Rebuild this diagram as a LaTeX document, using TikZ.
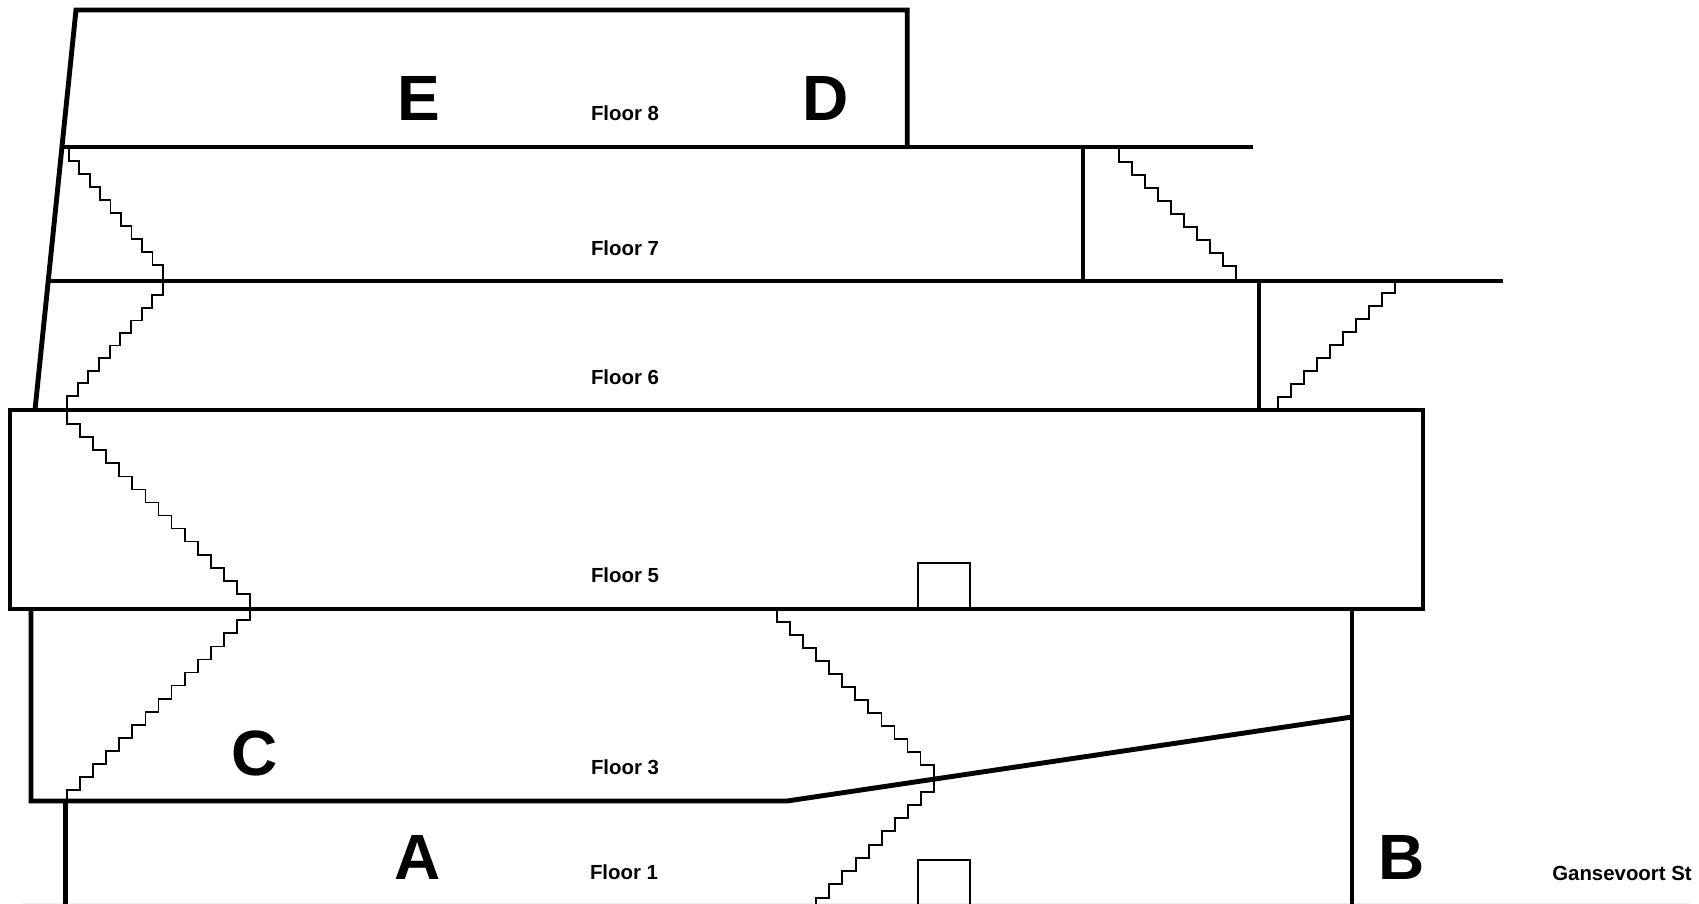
\documentclass[tikz,border=0pt]{standalone}
\usepackage{fontspec}
\setmainfont{Liberation Sans}
\definecolor{faint}{HTML}{EEEEEE}
\tikzset{
  wall/.style={line width=4.9pt,line cap=butt,line join=miter},
  stair/.style={line width=1.8pt,line join=miter},
  box/.style={line width=1.7pt},
  floorlab/.style={font=\fontsize{20.4}{20.4}\selectfont\bfseries,inner sep=0pt,anchor=base},
  wing/.style={font=\fontsize{64}{64}\selectfont\bfseries,inner sep=0pt,anchor=base}
}
% stair: start x, start y, first row y, x-step, y-step, treads, end y
\newcommand{\stairs}[7]{%
  \draw[stair] (#1,#2)
  \foreach \i in {1,...,#6}{
    -- ({#1+(\i-1)*(#4)},{#3+(\i-1)*(#5)}) -- ({#1+\i*(#4)},{#3+(\i-1)*(#5)})
  } -- ({#1+#6*(#4)},#7);}
\begin{document}
\begin{tikzpicture}[x=1pt,y=-1pt]
\useasboundingbox (0,0) rectangle (1699,904);
\fill[white] (0,0) rectangle (1699,904);
\draw[faint,line width=1pt] (22,903.4) -- (1690,903.4);
% stairs
\stairs{68.7}{147}{160.7}{10.47}{13.03}{9}{281}
\stairs{163}{281}{295.3}{-10.67}{12.55}{9}{410}
\stairs{67}{410}{424.3}{13.07}{13.03}{14}{608}
\stairs{250}{608}{620.3}{-13.07}{13.05}{14}{801}
\stairs{1118.7}{147}{161.7}{13.04}{13}{9}{281}
\stairs{1395.3}{281}{292.7}{-13.07}{13}{9}{410}
\stairs{777}{608}{621.7}{13.05}{13.02}{12}{791.7}
\draw[stair] (933.7,765) -- (933.7,791.7) -- (920.7,791.7) -- (920.7,805) -- (907.7,805)
  -- (907.7,818.3) -- (894.7,818.3) -- (894.7,831.3) -- (881.7,831.3) -- (881.7,844.7)
  -- (868.7,844.7) -- (868.7,857.7) -- (855.7,857.7) -- (855.7,871) -- (842.3,871)
  -- (842.3,884.3) -- (829.3,884.3) -- (829.3,897.7) -- (816,897.7) -- (816,904);
% small boxes
\draw[box] (918.3,608) -- (918.3,562.7) -- (970,562.7) -- (970,608);
\draw[box] (918.3,904) -- (918.3,860) -- (970,860) -- (970,904);
% thick walls
\draw[wall] (907.2,147) -- (907.2,10) -- (76,10) -- (35,410);
\draw[wall] (63,147) -- (1253,147);
\draw[wall] (49,281) -- (1503,281);
\draw[wall] (1083,147) -- (1083,281);
\draw[wall] (1259,281) -- (1259,410);
\draw[wall] (10,410) rectangle (1423,609);
\draw[wall] (31,608) -- (31,801) -- (787,801) -- (1352,717);
\draw[wall] (65.7,801) -- (65.7,904);
\draw[wall,line width=3.8pt] (1352,608) -- (1352,904);
\draw[wall] (1352,658) -- (1352,717);
% labels
\node[floorlab] (f8) at (625,121) {Floor 8};
\node[floorlab] (f7) at (625,255) {Floor 7};
\node[floorlab] (f6) at (625,384) {Floor 6};
\node[floorlab] (f5) at (625,582) {Floor 5};
\node[floorlab] (f3) at (625,774) {Floor 3};
\node[floorlab] (f1) at (624,879.5) {Floor 1};
\node[floorlab] (st) at (1622,880.5) {Gansevoort St};
\node[wing] (e) at (418.5,121) {E};
\node[wing] (d) at (826,121) {D};
\node[wing] (c) at (255,775) {C};
\node[wing] (a) at (418,879.5) {A};
\node[wing] (b) at (1402,879) {B};
\end{tikzpicture}
\end{document}
